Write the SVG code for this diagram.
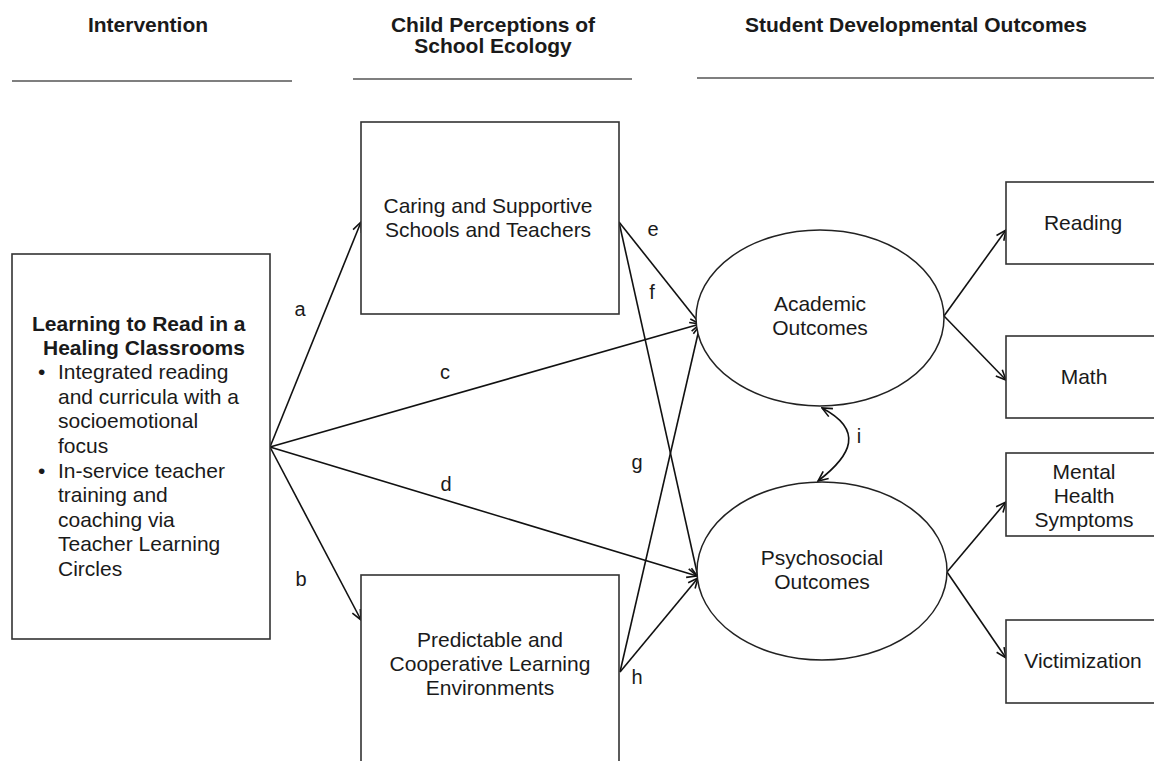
<svg xmlns="http://www.w3.org/2000/svg" width="1154" height="761" viewBox="0 0 1154 761">
  <style>
    text { font-family: "Liberation Sans", Arial, sans-serif; font-size: 21px; fill: #1a1a1a; }
    .hd { font-weight: bold; font-size: 21px; text-anchor: middle; }
    .c { text-anchor: middle; }
    .b { font-weight: bold; }
    .box { fill: #fff; stroke: #333; stroke-width: 1.6; }
    .ell { fill: #fff; stroke: #222; stroke-width: 1.5; }
    .rule { stroke: #555; stroke-width: 1.5; }
    .edge { fill: none; stroke: #111; stroke-width: 1.6; marker-end: url(#arr); }
    .lbl { font-size: 20px; text-anchor: middle; }
  </style>
  <defs>
    <marker id="arr" viewBox="0 0 12 12" refX="11" refY="6" markerWidth="12" markerHeight="12" markerUnits="userSpaceOnUse" orient="auto-start-reverse">
      <path d="M1,1.5 L11,6 L1,10.5" fill="none" stroke="#111" stroke-width="1.6"/>
    </marker>
  </defs>
  <rect width="1154" height="761" fill="#fff"/>

  <!-- column headings -->
  <g id="headings">
    <text class="hd" x="148" y="32">Intervention</text>
    <line class="rule" x1="12" y1="81" x2="292" y2="81"/>
    <text class="hd" x="493" y="32">Child Perceptions of</text>
    <text class="hd" x="493" y="53">School Ecology</text>
    <line class="rule" x1="353" y1="79" x2="632" y2="79"/>
    <text class="hd" x="916" y="32">Student Developmental Outcomes</text>
    <line class="rule" x1="697" y1="78" x2="1154" y2="78"/>
  </g>

  <!-- connectors -->
  <g id="connectors">
    <path class="edge" d="M270,447 L361,222"/>
    <path class="edge" d="M270,447 L361,620"/>
    <path class="edge" d="M270,447 L700,324"/>
    <path class="edge" d="M270,447 L697,576"/>
    <path class="edge" d="M619,222 L700,324"/>
    <path class="edge" d="M619,222 L698,577"/>
    <path class="edge" d="M620,672 L700,325"/>
    <path class="edge" d="M620,672 L698,578"/>
    <path class="edge" d="M944,316 L1006,230"/>
    <path class="edge" d="M944,316 L1006,380"/>
    <path class="edge" d="M947,572 L1006,502"/>
    <path class="edge" d="M947,572 L1006,658"/>
    <path class="edge" d="M818,481 C852,455 864,430 822,408" marker-start="url(#arr)"/>
    <text class="lbl" x="300" y="316">a</text>
    <text class="lbl" x="301" y="586">b</text>
    <text class="lbl" x="445" y="379">c</text>
    <text class="lbl" x="446" y="491">d</text>
    <text class="lbl" x="653" y="236">e</text>
    <text class="lbl" x="652" y="299">f</text>
    <text class="lbl" x="637" y="469">g</text>
    <text class="lbl" x="637" y="684">h</text>
    <text class="lbl" x="859" y="443">i</text>
  </g>

  <!-- intervention -->
  <g id="intervention">
    <rect class="box" x="12" y="254" width="258" height="385"/>
    <text class="b" x="32" y="331">Learning to Read in a</text>
    <text class="b" x="43" y="355">Healing Classrooms</text>
    <text x="38" y="379">•</text>
    <text x="58" y="379">Integrated reading</text>
    <text x="58" y="404">and curricula with a</text>
    <text x="58" y="428">socioemotional</text>
    <text x="58" y="453">focus</text>
    <text x="38" y="478">•</text>
    <text x="58" y="478">In-service teacher</text>
    <text x="58" y="502">training and</text>
    <text x="58" y="527">coaching via</text>
    <text x="58" y="551">Teacher Learning</text>
    <text x="58" y="576">Circles</text>
  </g>

  <!-- school ecology -->
  <g id="caring">
    <rect class="box" x="361" y="122" width="258" height="192"/>
    <text class="c" x="488" y="213">Caring and Supportive</text>
    <text class="c" x="488" y="237">Schools and Teachers</text>
  </g>
  <g id="predictable">
    <rect class="box" x="361" y="575" width="258" height="200"/>
    <text class="c" x="490" y="647">Predictable and</text>
    <text class="c" x="490" y="671">Cooperative Learning</text>
    <text class="c" x="490" y="695">Environments</text>
  </g>

  <!-- latent outcomes -->
  <g id="academic">
    <ellipse class="ell" cx="820" cy="318" rx="124" ry="88"/>
    <text class="c" x="820" y="311">Academic</text>
    <text class="c" x="820" y="335">Outcomes</text>
  </g>
  <g id="psychosocial">
    <ellipse class="ell" cx="822" cy="571" rx="125" ry="89"/>
    <text class="c" x="822" y="565">Psychosocial</text>
    <text class="c" x="822" y="589">Outcomes</text>
  </g>

  <!-- observed outcomes -->
  <g id="reading">
    <rect class="box" x="1006" y="182" width="160" height="82"/>
    <text class="c" x="1083" y="230">Reading</text>
  </g>
  <g id="math">
    <rect class="box" x="1006" y="336" width="160" height="82"/>
    <text class="c" x="1084" y="384">Math</text>
  </g>
  <g id="mental">
    <rect class="box" x="1006" y="453" width="160" height="83"/>
    <text class="c" x="1084" y="479">Mental</text>
    <text class="c" x="1084" y="503">Health</text>
    <text class="c" x="1084" y="527">Symptoms</text>
  </g>
  <g id="victimization">
    <rect class="box" x="1006" y="620" width="160" height="83"/>
    <text class="c" x="1083" y="668">Victimization</text>
  </g>
</svg>
